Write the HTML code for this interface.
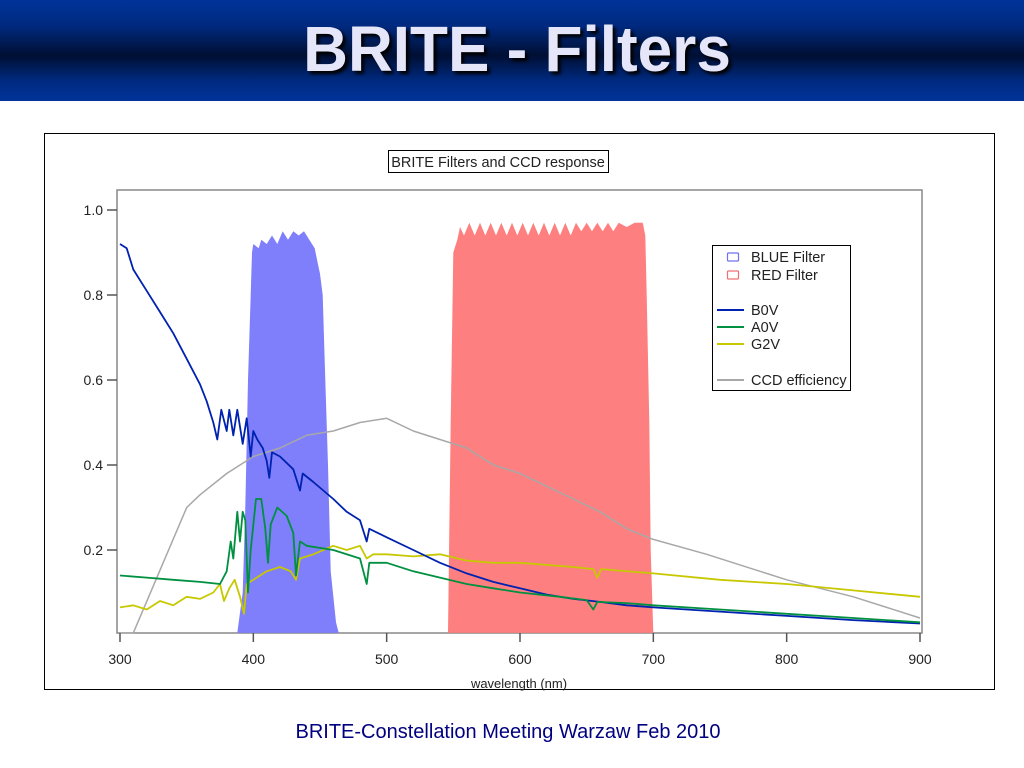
<!DOCTYPE html>
<html><head><meta charset="utf-8"><style>
body{margin:0;width:1024px;height:768px;overflow:hidden;background:#fff;font-family:"Liberation Sans",sans-serif;}
#hdr{position:absolute;left:0;top:0;width:1024px;height:101px;background:linear-gradient(#003399 0%,#002a80 25%,#000f33 55%,#002a80 80%,#003399 100%);}
#ttl{position:absolute;left:0;top:12px;width:1034px;text-align:center;color:#e6e6fa;font-weight:bold;font-size:64px;text-shadow:3px 3px 3px #000;transform:scaleX(0.97);transform-origin:517px 0;}
#foot{position:absolute;left:0;top:721px;width:1016px;text-align:center;color:#000080;font-size:20px;}
</style></head><body>
<div id="hdr"></div>
<div id="ttl">BRITE - Filters</div>
<svg id="chart" width="1024" height="768" style="position:absolute;left:0;top:0"></svg>
<div id="foot">BRITE-Constellation Meeting Warzaw Feb 2010</div>
<script>
const xTicks=[300,400,500,600,700,800,900];
const yTicks=[0.2,0.4,0.6,0.8,1.0];
const yTickLabels=["0.2","0.4","0.6","0.8","1.0"];
const blueFilterWl=[388,392,394,396,398,399,400,404,406,410,414,418,422,426,430,434,438,442,446,448,450,452,454,456,458,462,464];
const blueFilterT=[0.005,0.1,0.3,0.6,0.8,0.9,0.92,0.91,0.93,0.92,0.94,0.92,0.95,0.93,0.95,0.94,0.95,0.93,0.91,0.88,0.85,0.8,0.6,0.4,0.15,0.03,0.005];
const redFilterWl=[546,548,550,553,555,558,562,566,570,574,578,582,586,590,594,598,602,606,610,614,618,622,626,630,634,638,642,646,650,654,658,662,666,670,674,680,686,692,694,695,697,698,700];
const redFilterT=[0.005,0.5,0.9,0.93,0.96,0.94,0.97,0.94,0.97,0.94,0.97,0.94,0.97,0.94,0.97,0.94,0.97,0.94,0.97,0.94,0.97,0.94,0.97,0.94,0.97,0.94,0.97,0.95,0.97,0.95,0.97,0.95,0.97,0.95,0.97,0.96,0.97,0.97,0.94,0.8,0.5,0.2,0.005];
const ccdWl=[300,310,350,360,380,400,420,440,460,480,500,520,540,560,580,600,620,640,660,680,700,740,780,800,850,900];
const ccdV=[0.005,0.005,0.3,0.33,0.38,0.42,0.44,0.47,0.48,0.5,0.51,0.48,0.46,0.44,0.4,0.38,0.35,0.32,0.29,0.25,0.225,0.19,0.15,0.13,0.09,0.04];
const g2vWl=[300,310,320,330,340,350,360,370,375,378,382,386,390,393,395,400,410,420,428,432,435,445,460,470,480,485,490,500,520,540,560,580,600,620,640,655,658,661,700,750,800,850,900];
const g2vV=[0.065,0.07,0.06,0.08,0.07,0.09,0.085,0.1,0.12,0.08,0.11,0.13,0.09,0.05,0.12,0.13,0.15,0.16,0.15,0.13,0.18,0.19,0.21,0.2,0.21,0.18,0.19,0.19,0.185,0.19,0.175,0.17,0.17,0.165,0.16,0.155,0.135,0.155,0.145,0.13,0.12,0.105,0.09];
const a0vWl=[300,320,340,360,375,380,383,385,388,390,392,394,396,398,402,406,409,411,413,418,425,430,432,435,440,460,480,485,487,500,520,540,560,580,600,630,650,655,658,680,700,750,800,850,900];
const a0vV=[0.14,0.135,0.13,0.125,0.12,0.15,0.22,0.18,0.29,0.22,0.29,0.27,0.1,0.2,0.32,0.32,0.25,0.17,0.26,0.3,0.28,0.24,0.14,0.22,0.21,0.2,0.18,0.12,0.17,0.17,0.15,0.135,0.12,0.11,0.1,0.09,0.082,0.06,0.078,0.075,0.07,0.06,0.05,0.04,0.03];
const b0vWl=[300,305,310,320,330,340,350,360,365,370,373,376,380,382,385,388,390,392,395,398,400,403,407,410,412,414,420,430,435,437,445,460,470,480,485,487,500,520,540,560,580,600,620,640,660,680,700,750,800,850,900];
const b0vV=[0.92,0.91,0.86,0.81,0.76,0.71,0.65,0.59,0.55,0.5,0.46,0.53,0.48,0.53,0.47,0.53,0.49,0.45,0.51,0.42,0.48,0.46,0.44,0.41,0.37,0.43,0.42,0.39,0.34,0.38,0.36,0.32,0.29,0.27,0.22,0.25,0.23,0.2,0.17,0.145,0.125,0.11,0.095,0.085,0.078,0.07,0.065,0.055,0.045,0.035,0.027];

const NS="http://www.w3.org/2000/svg";
const svg=document.getElementById('chart');
const X=w=>120+(w-300)*800/600;
const Y=v=>635-v*425;
function mk(t,a){const e=document.createElementNS(NS,t);for(const k in a)e.setAttribute(k,a[k]);svg.appendChild(e);return e;}
function txt(x,y,s,size,anchor){const e=mk('text',{x:x,y:y,'font-size':size,'text-anchor':anchor||'start',fill:'#222','font-family':'Liberation Sans, sans-serif'});e.textContent=s;return e;}

let e=mk('rect',{x:44.5,y:133.5,width:950,height:556,fill:'none',stroke:'#000','stroke-width':1});


e=mk('rect',{x:117,y:190,width:805,height:443,fill:'none',stroke:'#888','stroke-width':1.5});



function area(wl,v,fill,name){let d='M'+X(wl[0])+','+Y(0.005);wl.forEach((w,i)=>d+=' L'+X(w).toFixed(1)+','+Y(v[i]).toFixed(1));d+=' L'+X(wl[wl.length-1])+','+Y(0.005)+'Z';const p=mk('path',{d:d,fill:fill});

}
area(blueFilterWl,blueFilterT,'#7f7ffb','blue-filter-area');
area(redFilterWl,redFilterT,'#fd7f7f','red-filter-area');
function line(wl,v,col,w,name){const pts=wl.map((x,i)=>X(x).toFixed(1)+','+Y(v[i]).toFixed(1)).join(' ');const p=mk('polyline',{points:pts,fill:'none',stroke:col,'stroke-width':w,'stroke-linejoin':'round'});

}
line(ccdWl,ccdV,'#a8a8a8',1.5,'ccd-efficiency-line');
line(g2vWl,g2vV,'#c8c800',1.8,'g2v-line');
line(b0vWl,b0vV,'#0022b0',1.8,'b0v-line');
line(a0vWl,a0vV,'#009040',1.8,'a0v-line');

xTicks.forEach(t=>{mk('line',{x1:X(t),x2:X(t),y1:633,y2:642,stroke:'#555','stroke-width':1.5});const l=txt(X(t),664,String(t),14,'middle');

});
yTicks.forEach((t,i)=>{mk('line',{x1:107,x2:117,y1:Y(t),y2:Y(t),stroke:'#555','stroke-width':1.5});const l=txt(103,Y(t)+5,yTickLabels[i],14,'end');

});
e=txt(519,688,'wavelength (nm)',13,'middle');



e=mk('rect',{x:388.5,y:150.5,width:220,height:22,fill:'#fff',stroke:'#000'});


e=txt(498,167,'BRITE Filters and CCD response',14.5,'middle');



e=mk('rect',{x:712.5,y:245.5,width:138,height:145,fill:'#fff',stroke:'#000'});


[['BLUE Filter','#7070f0',257],['RED Filter','#f07070',275]].forEach(r=>{mk('rect',{x:727.5,y:r[2]-4,width:11,height:8,fill:'none',stroke:r[1],'stroke-width':1.2,rx:1});const l=txt(751,r[2]+5,r[0],14.5);

});
[['B0V','#0022b0',310],['A0V','#009040',327],['G2V','#c8c800',344],['CCD efficiency','#a8a8a8',380]].forEach(r=>{mk('line',{x1:717,x2:744,y1:r[2],y2:r[2],stroke:r[1],'stroke-width':2});const l=txt(751,r[2]+5,r[0],14.5);

});
</script>
</body></html>
